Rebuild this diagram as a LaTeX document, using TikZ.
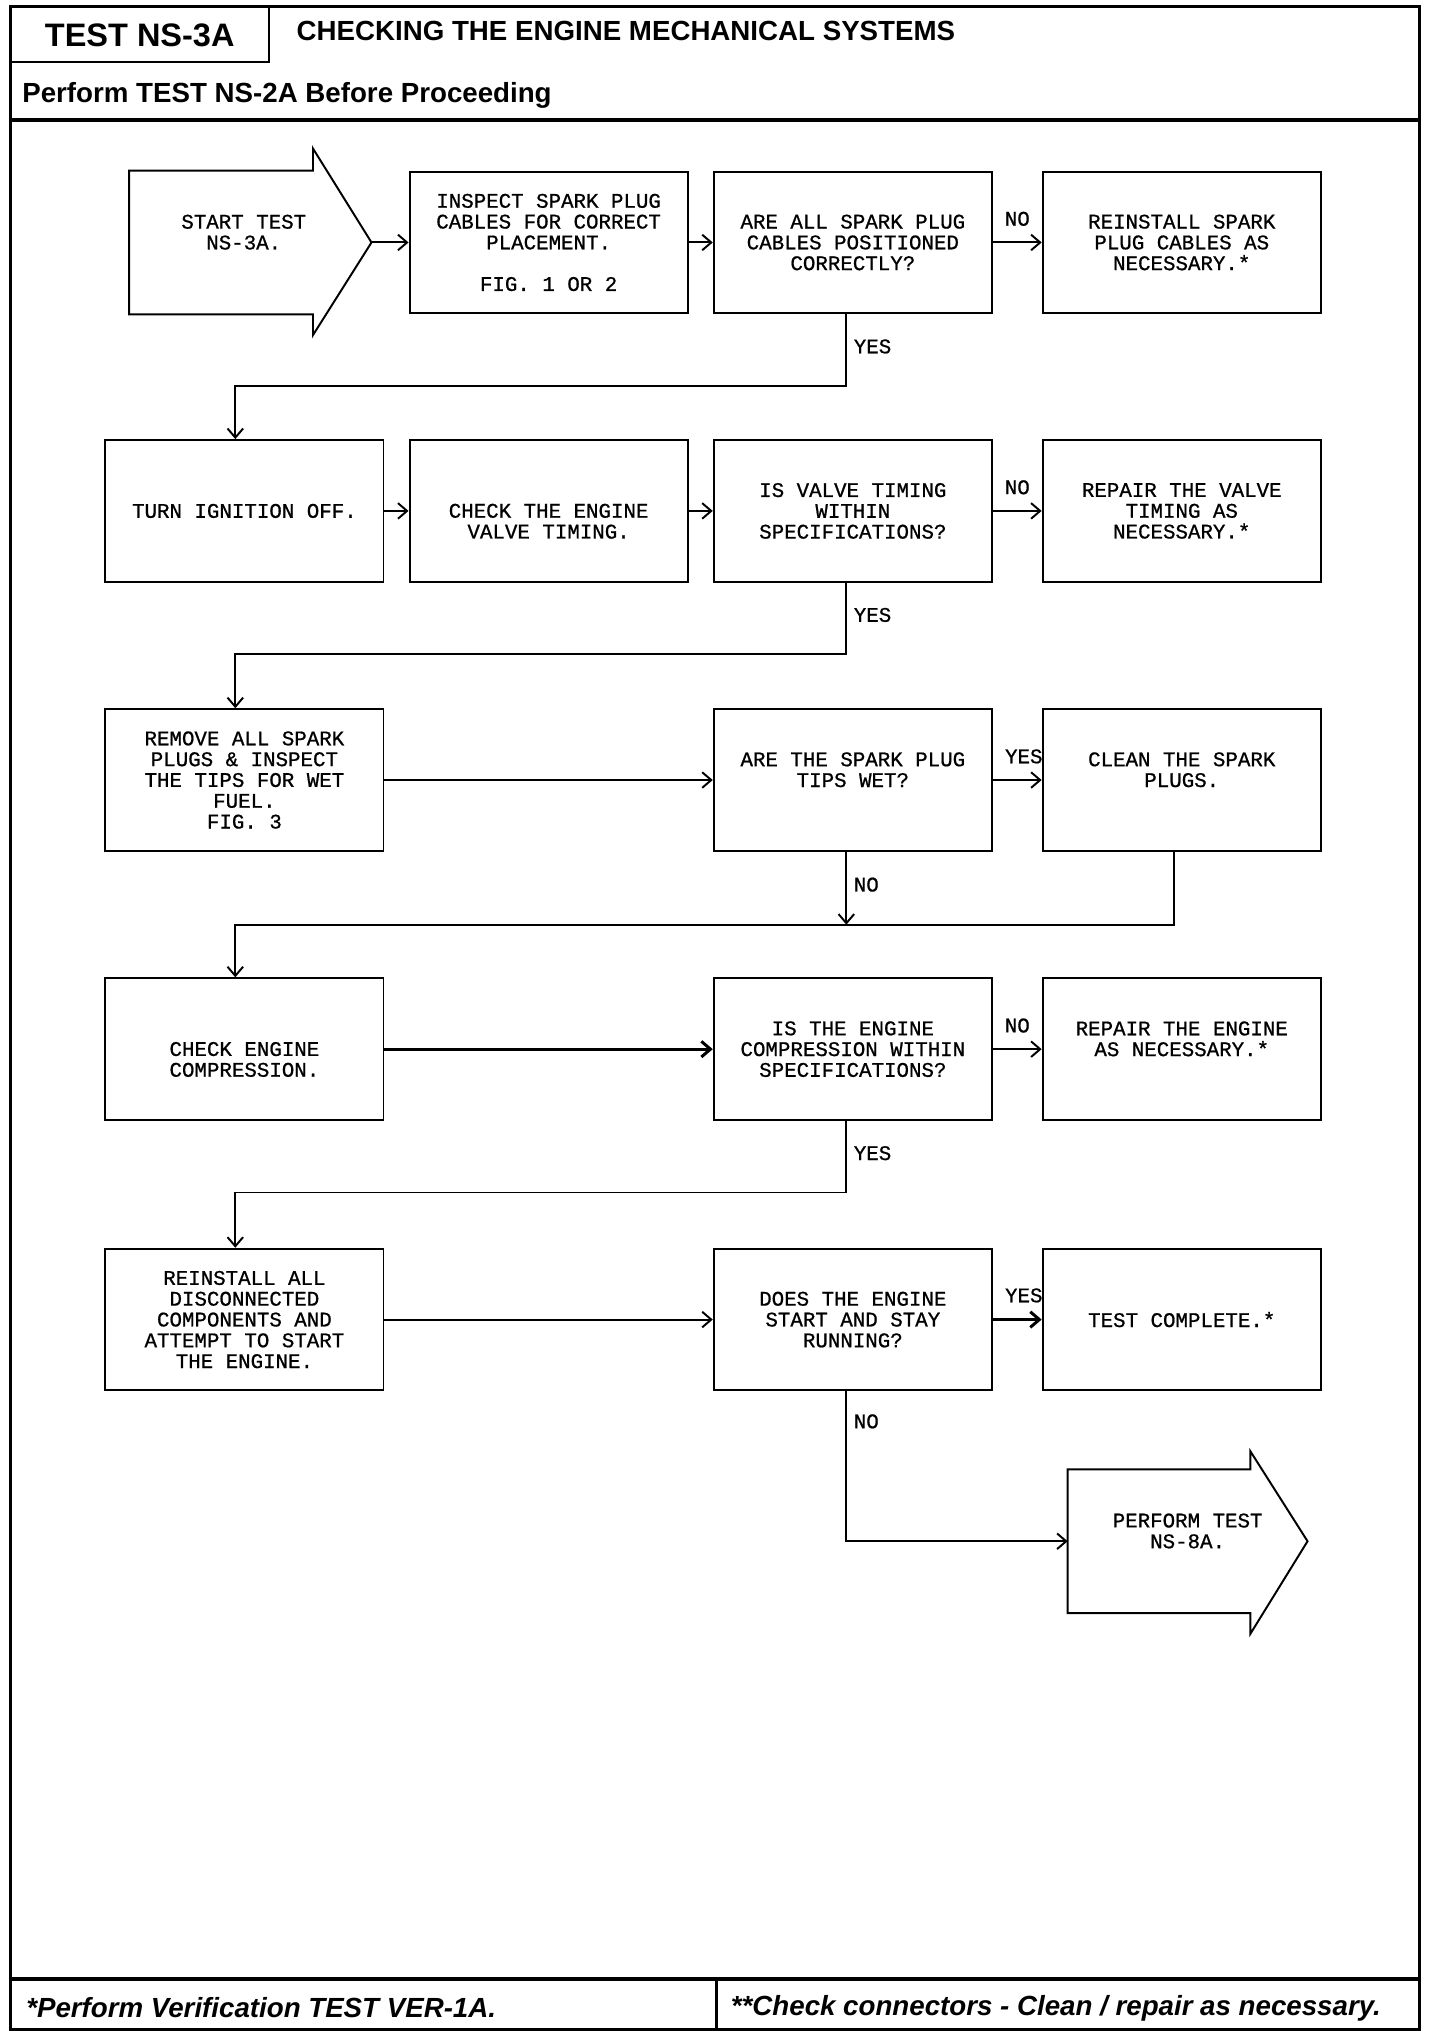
\documentclass[tikz,border=0pt]{standalone}
\usepackage{fontspec}
\setmainfont{Liberation Sans}
\newfontfamily\chartmono[FakeBold=0.8]{Liberation Mono}
\usetikzlibrary{arrows.meta}

\newcommand{\boxfont}{\chartmono\fontsize{16}{16}\selectfont}
\newcommand{\headfont}{\bfseries\fontsize{21.3}{24}\selectfont}
\newcommand{\noteline}{\vphantom{X}}

\tikzset{
  stepbox/.style={draw, line width=1.5pt, minimum width=214pt, minimum height=109pt,
    inner sep=0pt, align=center, font=\boxfont},
  flow/.style={line width=1.5pt, -{Straight Barb[length=7pt, width=12pt]}},
  answer/.style={font=\boxfont, inner sep=0pt},
}

\begin{document}
\begin{tikzpicture}[x=1pt, y=-1pt]
  \useasboundingbox (0,0) rectangle (1107.7,1563);

  % page frame and headings
  \draw[line width=2pt] (8,5) rectangle (1092,1561);
  \draw[line width=1.5pt] (207,5) -- (207,48) -- (8,48);
  \draw[line width=3pt] (8,92) -- (1092,92);
  \draw[line width=3pt] (8,1522) -- (1092,1522);
  \draw[line width=2pt] (551,1522) -- (551,1561);
  \node[font=\bfseries\fontsize{25}{25}\selectfont] (testname) at (107.5,27) {TEST NS-3A};
  \node[font=\headfont, anchor=west, inner sep=0pt] (title) at (228,24) {CHECKING THE ENGINE MECHANICAL SYSTEMS};
  \node[font=\headfont, anchor=west, inner sep=0pt] (before) at (17,73) {Perform TEST NS-2A Before Proceeding};
  \node[font=\headfont\itshape, anchor=west, inner sep=0pt] (verify) at (20,1544) {*Perform Verification TEST VER-1A.};
  \node[font=\headfont\itshape, anchor=west, inner sep=0pt] (connectors) at (562,1545) {**Check connectors - Clean / repair as necessary.};

  % row 1
  \node[stepbox, draw=none, minimum width=175pt] (start) at (187.5,186.5) {START TEST\\NS-3A.\\\noteline};
  \coordinate (starttip) at ([xshift=10pt]start.east);
  \draw[line width=1.5pt] (start.north west) -- ([xshift=-35pt]start.north east) -- ++(0,-17)
    -- (starttip) -- ([xshift=-35pt, yshift=-16pt]start.south east)
    -- ([xshift=-35pt]start.south east) -- (start.south west) -- cycle;
  \node[stepbox] (inspect) at (422,186.5) {INSPECT SPARK PLUG\\CABLES FOR CORRECT\\PLACEMENT.\\\noteline\\FIG. 1 OR 2};
  \node[stepbox] (cablesok) at (656,186.5) {ARE ALL SPARK PLUG\\CABLES POSITIONED\\CORRECTLY?};
  \node[stepbox] (fixcables) at (909,186.5) {REINSTALL SPARK\\PLUG CABLES AS\\NECESSARY.*};

  % row 2
  \node[stepbox] (ignoff) at (188,393) {TURN IGNITION OFF.};
  \node[stepbox] (valvecheck) at (422,393) {\noteline\\CHECK THE ENGINE\\VALVE TIMING.};
  \node[stepbox] (valveok) at (656,393) {IS VALVE TIMING\\WITHIN\\SPECIFICATIONS?};
  \node[stepbox] (fixvalve) at (909,393) {REPAIR THE VALVE\\TIMING AS\\NECESSARY.*};

  % row 3
  \node[stepbox] (plugsout) at (188,600) {REMOVE ALL SPARK\\PLUGS \& INSPECT\\THE TIPS FOR WET\\FUEL.\\FIG. 3};
  \node[stepbox] (plugswet) at (656,600) {ARE THE SPARK PLUG\\TIPS WET?\\\noteline};
  \node[stepbox] (cleanplugs) at (909,600) {CLEAN THE SPARK\\PLUGS.\\\noteline};

  % row 4
  \node[stepbox] (compcheck) at (188,807) {\noteline\\CHECK ENGINE\\COMPRESSION.};
  \node[stepbox] (compok) at (656,807) {IS THE ENGINE\\COMPRESSION WITHIN\\SPECIFICATIONS?};
  \node[stepbox] (fixengine) at (909,807) {REPAIR THE ENGINE\\AS NECESSARY.*\\\noteline};

  % row 5
  \node[stepbox] (restart) at (188,1015) {REINSTALL ALL\\DISCONNECTED\\COMPONENTS AND\\ATTEMPT TO START\\THE ENGINE.};
  \node[stepbox] (runs) at (656,1015) {DOES THE ENGINE\\START AND STAY\\RUNNING?};
  \node[stepbox] (complete) at (909,1015) {TEST COMPLETE.*};
  \node[stepbox, draw=none, minimum width=183pt] (ns8a) at (913.5,1185.5) {PERFORM TEST\\NS-8A.\\\noteline};
  \draw[line width=1.5pt] (ns8a.north west) -- ([xshift=-44pt]ns8a.north east) -- ++(0,-14)
    -- (ns8a.east) -- ([xshift=-44pt, yshift=-16pt]ns8a.south east)
    -- ([xshift=-44pt]ns8a.south east) -- (ns8a.south west) -- cycle;

  % connectors
  \draw[flow] (starttip) -- (inspect.west);
  \draw[flow] (inspect.east) -- (cablesok.west);
  \draw[flow] (cablesok.east) -- node[answer, above=12pt] {NO} (fixcables.west);
  \draw[flow] ([xshift=-5pt]cablesok.south) -- node[answer, pos=0.45, right=5pt] {YES} ++(0,55) -| ([xshift=-7pt]ignoff.north);

  \draw[flow] (ignoff.east) -- (valvecheck.west);
  \draw[flow] (valvecheck.east) -- (valveok.west);
  \draw[flow] (valveok.east) -- node[answer, above=12pt] {NO} (fixvalve.west);
  \draw[flow] ([xshift=-5pt]valveok.south) -- node[answer, pos=0.45, right=5pt] {YES} ++(0,55) -| ([xshift=-7pt]plugsout.north);

  \draw[flow] (plugsout.east) -- (plugswet.west);
  \draw[flow] (plugswet.east) -- node[answer, above=12pt, xshift=5pt] {YES} (cleanplugs.west);
  \draw[flow] ([xshift=-5pt]plugswet.south) -- node[answer, pos=0.45, right=5pt] {NO} ++(0,56);
  \draw[flow] ([xshift=-6pt]cleanplugs.south) -- ++(0,56) -| ([xshift=-7pt]compcheck.north);

  \draw[flow, line width=2.3pt] (compcheck.east) -- (compok.west);
  \draw[flow] (compok.east) -- node[answer, above=12pt] {NO} (fixengine.west);
  \draw[flow] ([xshift=-5pt]compok.south) -- node[answer, pos=0.45, right=5pt] {YES} ++(0,55) -| ([xshift=-7pt]restart.north);

  \draw[flow] (restart.east) -- (runs.west);
  \draw[flow, line width=2.3pt] (runs.east) -- node[answer, above=12pt, xshift=5pt] {YES} (complete.west);
  \draw[flow] ([xshift=-5pt]runs.south) |- node[answer, pos=0.1, right=5pt] {NO} (ns8a.west);
\end{tikzpicture}
\end{document}
